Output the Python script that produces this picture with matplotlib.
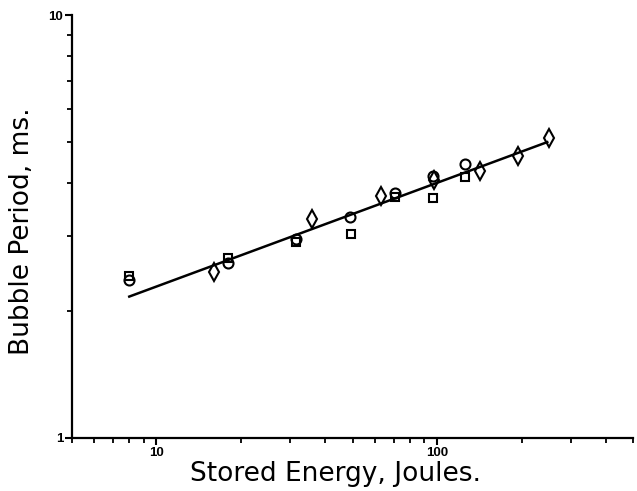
import matplotlib
matplotlib.use("Agg")
import matplotlib.pyplot as plt
from matplotlib.ticker import LogLocator, FixedLocator, FixedFormatter, NullFormatter

# Bubble period measurements for three electrode series (energy in J, period in ms)
circle_energy = [8.0, 18.0, 31.5, 49.0, 71.0, 97.0, 126.0]
circle_period = [2.36, 2.59, 2.95, 3.34, 3.80, 4.16, 4.44]

square_energy = [8.0, 18.0, 31.5, 49.5, 71.0, 97.0, 126.0]
square_period = [2.42, 2.66, 2.91, 3.03, 3.71, 3.69, 4.15]

diamond_energy = [16.0, 35.7, 63.2, 97.5, 142.0, 194.0, 251.0]
diamond_period = [2.465, 3.29, 3.73, 4.07, 4.28, 4.64, 5.11]

# Fitted power-law line endpoints
fit_energy = [8.0, 247.0]
fit_period = [2.16, 5.01]

fig = plt.figure(figsize=(6.37, 4.91), dpi=100)
ax = fig.add_axes([0.113, 0.108, 0.881, 0.861])

ax.set_xscale("log")
ax.set_yscale("log")
ax.set_xlim(5, 500)
ax.set_ylim(1, 10)

ax.plot(fit_energy, fit_period, color="black", lw=1.8, zorder=2)

mk = dict(linestyle="none", markerfacecolor="none", markeredgecolor="black",
          markeredgewidth=1.5, zorder=3)
ax.plot(circle_energy, circle_period, marker="o", markersize=7.2, **mk)
ax.plot(square_energy, square_period, marker="s", markersize=6.2, **mk)
ax.plot(diamond_energy, diamond_period, marker="d", markersize=9, **mk)

for side in ("top", "right"):
    ax.spines[side].set_visible(False)
for side in ("left", "bottom"):
    ax.spines[side].set_linewidth(1.6)

ax.xaxis.set_major_locator(FixedLocator([10, 100]))
ax.xaxis.set_major_formatter(FixedFormatter(["10", "100"]))
ax.xaxis.set_minor_locator(LogLocator(base=10, subs=range(2, 10)))
ax.xaxis.set_minor_formatter(NullFormatter())

ax.yaxis.set_major_locator(FixedLocator([1, 10]))
ax.yaxis.set_major_formatter(FixedFormatter(["1", "10"]))
ax.yaxis.set_minor_locator(LogLocator(base=10, subs=range(2, 10)))
ax.yaxis.set_minor_formatter(NullFormatter())

ax.tick_params(which="major", direction="out", length=5, width=1.5,
               labelsize=9.5, pad=1.2)
ax.tick_params(which="minor", direction="out", length=3.5, width=1.3)
for lbl in ax.get_xticklabels() + ax.get_yticklabels():
    lbl.set_fontweight("bold")
    lbl.set_fontfamily("Liberation Sans")

ax.set_xlabel("Stored Energy, Joules.", fontsize=19)
ax.set_ylabel("Bubble Period, ms.", fontsize=19)
ax.xaxis.set_label_coords(0.47, -0.086)
ax.yaxis.set_label_coords(-0.089, 0.489)
ax.xaxis.label.set_va("center")
ax.yaxis.label.set_va("center")

fig.savefig("out.png", dpi=100, facecolor="white")
